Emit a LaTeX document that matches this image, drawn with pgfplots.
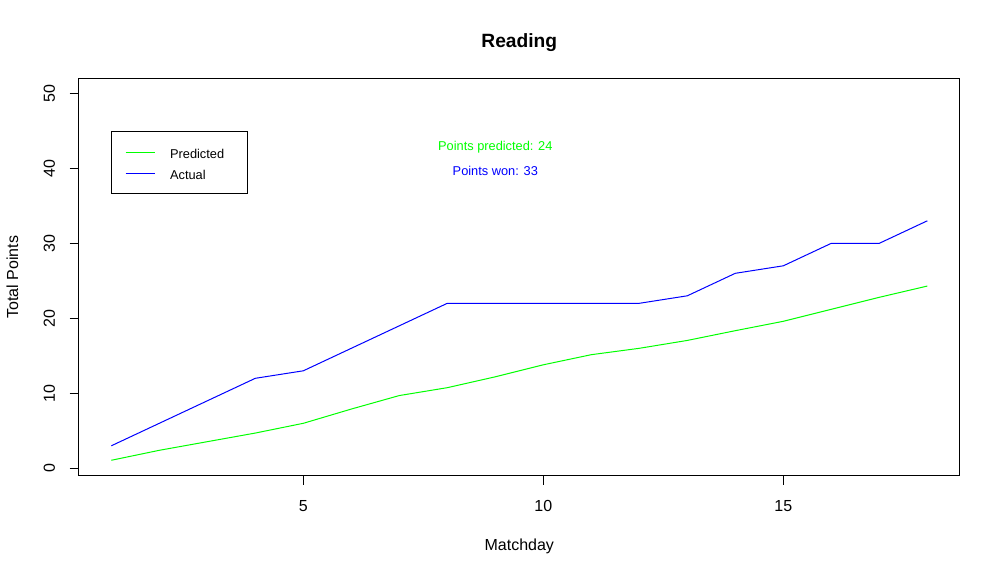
\documentclass[border=0pt]{standalone}
\usepackage{fontspec}
\setmainfont{Liberation Sans}
\usepackage{pgfplots}
\pgfplotsset{compat=1.18}
\definecolor{rgreen}{RGB}{0,255,0}
\definecolor{rblue}{RGB}{0,0,255}
\begin{document}
\begin{tikzpicture}[x=1pt,y=1pt]
\path[use as bounding box] (0,0) rectangle (1000,574);
\begin{axis}[
  at={(78.66pt,98.5pt)}, anchor=south west,
  scale only axis, width=881.3pt, height=396.9pt,
  xmin=0.32, xmax=18.68, ymin=-0.96, ymax=51.96,
  axis line style={line width=1pt, black},
  xtick={5,10,15}, ytick={0,10,20,30,40,50},
  tick align=outside, major tick length=9pt,
  tick style={line width=1pt, black},
  tick pos=left,
  /pgf/number format/assume math mode=true,
  ticklabel style={font=\fontsize{16}{19.2}\selectfont},
  xticklabel style={anchor=base, yshift=-26.5pt},
  yticklabel style={xshift=-14.7pt, rotate=90, anchor=base},
  title=Reading,
  title style={font=\bfseries\fontsize{19.2}{23}\selectfont, at={(axis description cs:0.5,1.0624)}, anchor=base},
  xlabel=Matchday,
  xlabel style={font=\fontsize{16}{19.2}\selectfont, at={(axis description cs:0.5,-0.1877)}, anchor=base},
  ylabel=Total Points,
  ylabel style={font=\fontsize{16}{19.2}\selectfont, at={(axis description cs:-0.0688,0.5)}, anchor=base},
  legend style={at={(axis cs:1,45)}, anchor=north west, draw=black, line width=1pt, fill=white,
    font=\fontsize{12.8}{15.4}\selectfont,
    inner xsep=13.3pt, inner ysep=14.3pt, row sep=8pt, column sep=15pt,
    nodes={inner sep=0pt, text height=13pt, text depth=0pt, text width=64.4pt, align=left, anchor=base west}},
  legend image code/.code={\draw[#1, line width=1pt] (0pt,6.3pt) -- (29pt,6.3pt);},
]
\addplot[rgreen, line width=1pt] coordinates {
(1,1.07) (2,2.4) (3,3.55) (4,4.7) (5,6.0) (6,7.9) (7,9.7) (8,10.75) (9,12.2)
(10,13.8) (11,15.15) (12,16.0) (13,17.05) (14,18.35) (15,19.6) (16,21.2) (17,22.8) (18,24.3)};
\addlegendentry{Predicted}
\addplot[rblue, line width=1pt] coordinates {
(1,3) (2,6) (3,9) (4,12) (5,13) (6,16) (7,19) (8,22) (9,22)
(10,22) (11,22) (12,22) (13,23) (14,26) (15,27) (16,30) (17,30) (18,33)};
\addlegendentry{Actual}
\node[rgreen, anchor=base, font=\fontsize{12.8}{15.4}\selectfont] at (axis cs:9,42.4) {Points predicted: 24};
\node[rblue, anchor=base, font=\fontsize{12.8}{15.4}\selectfont] at (axis cs:9,39.1) {Points won: 33};
\end{axis}
\end{tikzpicture}
\end{document}
